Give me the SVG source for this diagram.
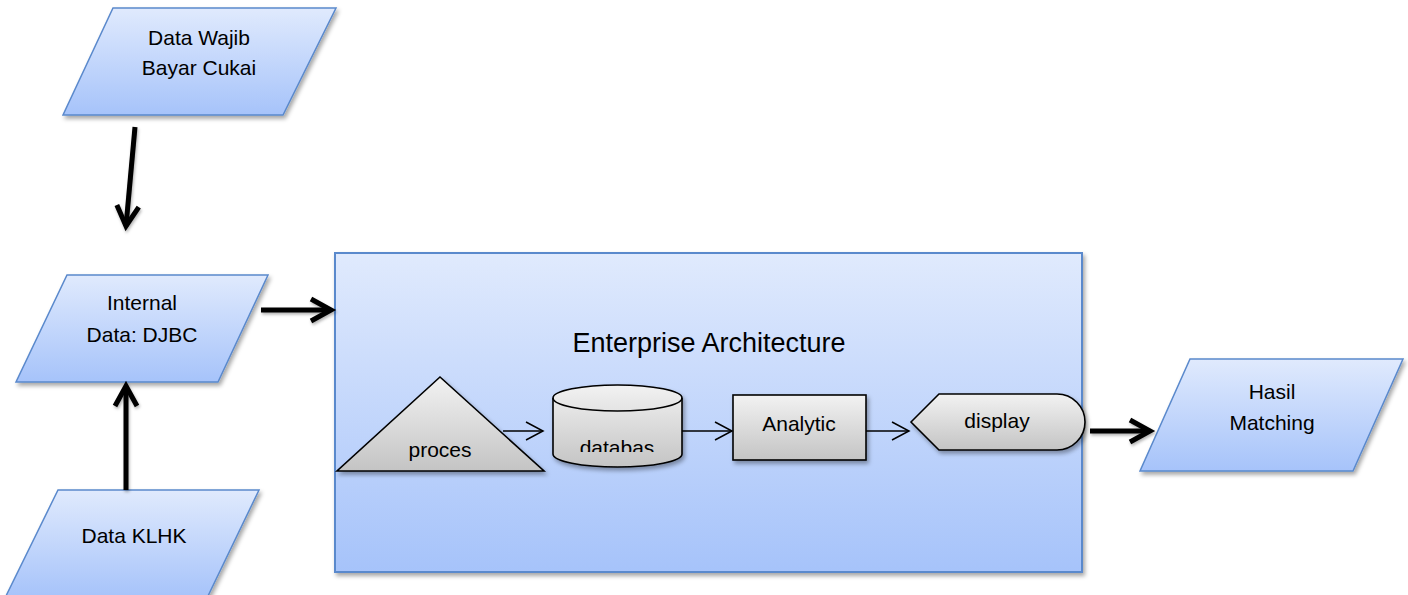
<svg xmlns="http://www.w3.org/2000/svg" width="1408" height="595" viewBox="0 0 1408 595">
  <defs>
    <linearGradient id="blueFill" x1="0" y1="0" x2="0" y2="1">
      <stop offset="0" stop-color="#e0eafd"/>
      <stop offset="1" stop-color="#a6c3fa"/>
    </linearGradient>
    <linearGradient id="grayFill" x1="0" y1="0" x2="0" y2="1">
      <stop offset="0" stop-color="#f2f2f2"/>
      <stop offset="1" stop-color="#c4c4c4"/>
    </linearGradient>
    <filter id="shadow" x="-10%" y="-10%" width="125%" height="130%">
      <feDropShadow dx="2" dy="3" stdDeviation="2" flood-color="#000" flood-opacity="0.35"/>
    </filter>
    <filter id="softShadow" filterUnits="userSpaceOnUse" x="0" y="0" width="1408" height="595">
      <feDropShadow dx="1" dy="2" stdDeviation="1.5" flood-color="#000" flood-opacity="0.3"/>
    </filter>
    <marker id="thickHead" markerUnits="userSpaceOnUse" orient="auto" markerWidth="40" markerHeight="40" refX="0" refY="0" viewBox="-30 -20 40 40" overflow="visible">
      <path d="M -20 -11 L 0 0 L -20 11" fill="none" stroke="#000" stroke-width="5" stroke-linejoin="miter"/>
    </marker>
    <marker id="thinHead" markerUnits="userSpaceOnUse" orient="auto" markerWidth="30" markerHeight="30" refX="0" refY="0" viewBox="-25 -15 30 30" overflow="visible">
      <path d="M -17 -9 L 0 0 L -17 9" fill="none" stroke="#000" stroke-width="1.5"/>
    </marker>
    <clipPath id="dbTextClip">
      <rect x="560" y="425" width="120" height="27"/>
    </clipPath>
  </defs>
  <style>
    .io { fill: url(#blueFill); stroke: #5a89cc; stroke-width: 1.5; filter: url(#shadow); }
    .proc { fill: url(#grayFill); stroke: #000; stroke-width: 1.6; filter: url(#shadow); }
    .lbl { font-family: "Liberation Sans", Arial, sans-serif; font-size: 21px; fill: #000; text-anchor: middle; }
    .title { font-family: "Liberation Sans", Arial, sans-serif; font-size: 27px; fill: #000; text-anchor: middle; }
    .thick { fill: none; stroke: #000; stroke-width: 5; marker-end: url(#thickHead); }
    .thin { fill: none; stroke: #000; stroke-width: 1.5; marker-end: url(#thinHead); }
  </style>

  <rect width="1408" height="595" fill="#fff"/>

  <!-- Enterprise architecture container -->
  <g id="enterprise-architecture">
    <rect x="335" y="253" width="747" height="319" fill="url(#blueFill)" stroke="#5a89cc" stroke-width="2" filter="url(#shadow)"/>
    <text class="title" x="709" y="352">Enterprise Architecture</text>
  </g>

  <!-- input / output data -->
  <g id="data-wajib-bayar-cukai">
    <polygon class="io" points="113,8 336,8 283,115 63,115"/>
    <text class="lbl" x="199" y="45">Data Wajib</text>
    <text class="lbl" x="199" y="75">Bayar Cukai</text>
  </g>

  <g id="internal-data-djbc">
    <polygon class="io" points="67,275 268,275 218,382 16,382"/>
    <text class="lbl" x="142" y="310">Internal</text>
    <text class="lbl" x="142" y="342">Data: DJBC</text>
  </g>

  <g id="data-klhk">
    <polygon class="io" points="58,490 259,490 207,598 5,598"/>
    <text class="lbl" x="134" y="543">Data KLHK</text>
  </g>

  <g id="hasil-matching">
    <polygon class="io" points="1190,359 1403,359 1353,471 1140,471"/>
    <text class="lbl" x="1272" y="399">Hasil</text>
    <text class="lbl" x="1272" y="430">Matching</text>
  </g>

  <!-- inner process chain -->
  <g id="proces">
    <polygon class="proc" points="440,377 544,471 337,471"/>
    <text class="lbl" x="440" y="457">proces</text>
  </g>

  <g id="databas">
    <path class="proc" d="M 553 398 A 64.5 13 0 0 1 682 398 L 682 454 A 64.5 13 0 0 1 553 454 Z"/>
    <path d="M 553 398 A 64.5 13 0 0 0 682 398" fill="none" stroke="#000" stroke-width="1.6"/>
    <text class="lbl" x="617" y="455" clip-path="url(#dbTextClip)">databas</text>
  </g>

  <g id="analytic">
    <rect class="proc" x="733" y="395" width="133" height="65"/>
    <text class="lbl" x="799" y="431">Analytic</text>
  </g>

  <g id="display">
    <path class="proc" d="M 911 422 L 939 394 L 1057 394 A 28 28 0 0 1 1057 450 L 939 450 Z"/>
    <text class="lbl" x="997" y="428">display</text>
  </g>

  <!-- connectors -->
  <g id="connectors">
    <g filter="url(#softShadow)">
      <path class="thick" d="M 135 127 L 126 226"/>
      <path class="thick" d="M 126 490 L 126 386"/>
      <path class="thick" d="M 261 310 L 331 310"/>
      <path class="thick" d="M 1090 431 L 1150 431"/>
    </g>
    <path class="thin" d="M 503 431 L 543 431"/>
    <path class="thin" d="M 682 431 L 732 431"/>
    <path class="thin" d="M 866 431 L 909 431"/>
  </g>
</svg>
